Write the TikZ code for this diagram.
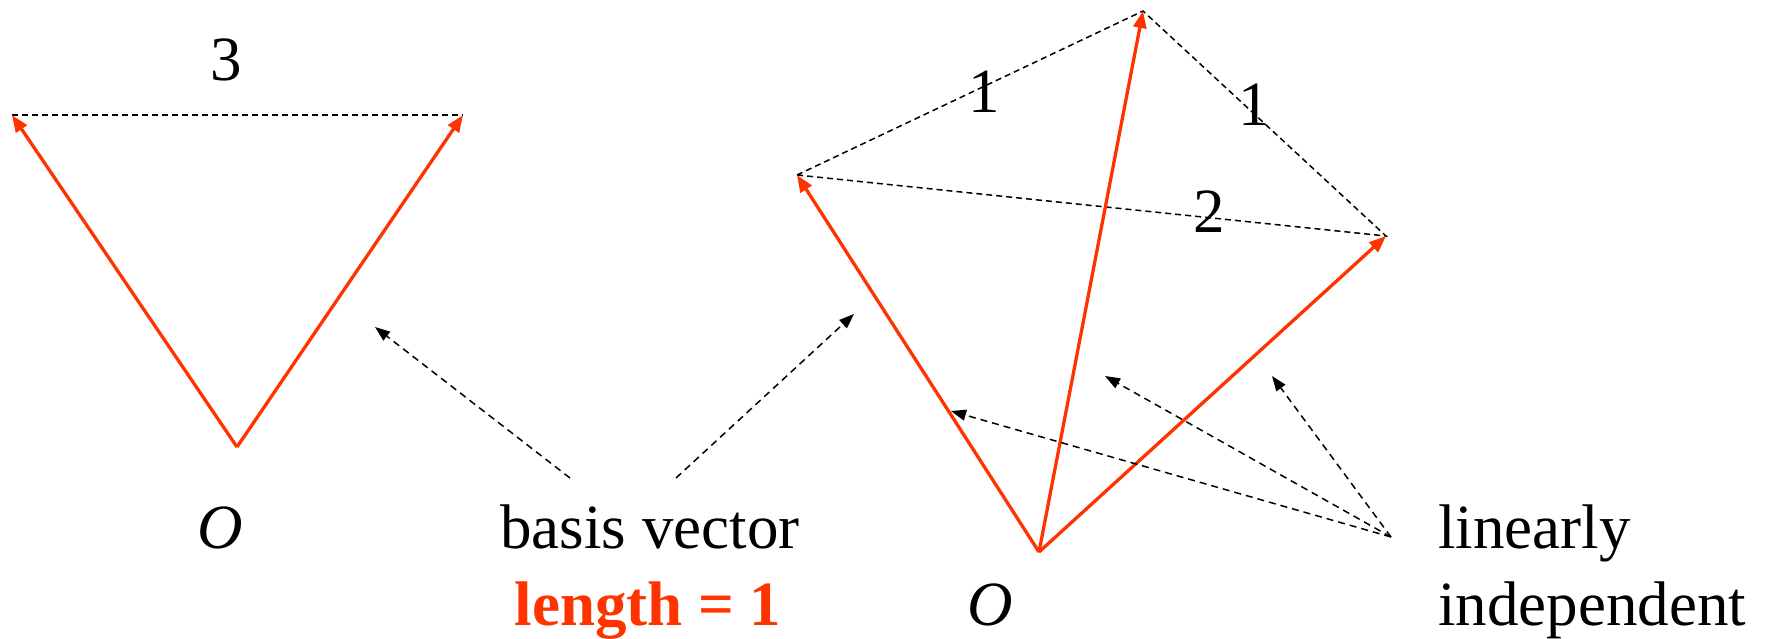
\documentclass[tikz,border=0pt]{standalone}
\usepackage{fontspec}
\setmainfont{Liberation Serif}
\usetikzlibrary{arrows.meta}
\definecolor{vred}{RGB}{255,51,0}
\begin{document}
\begin{tikzpicture}[x=1pt,y=-1pt,
  vec/.style={draw=vred,line width=3.3pt,-{Triangle[length=17pt,width=13pt]}},
  guide/.style={draw=black,line width=1.5pt,dash pattern=on 6pt off 4pt},
  pointer/.style={draw=black,line width=1.5pt,dash pattern=on 7pt off 5pt,-{Triangle[length=15pt,width=11pt]}},
  lbl/.style={inner sep=0pt,anchor=base,font=\fontsize{63}{70}\selectfont},
  lbll/.style={lbl,anchor=base west}]
\useasboundingbox (0,0) rectangle (1769,638);
% left figure
\coordinate (O1) at (237,447);
\coordinate (A) at (12,115);
\coordinate (B) at (463,115);
\draw[guide] (A) -- (B);
\draw[vec] (O1) -- (A);
\draw[vec] (O1) -- (B);
\node[lbl] (t3) at (226,80) {3};
\node[lbl] (o1) at (220,548) {\textit{O}};
% right figure
\coordinate (O2) at (1039,552);
\coordinate (C) at (797,175);
\coordinate (D) at (1143,11);
\coordinate (E) at (1386,236);
\draw[guide] (C) -- (D) -- (E) -- cycle;
\draw[vec] (O2) -- (C);
\draw[vec] (O2) -- (D);
\draw[vec] (O2) -- (E);
\node[lbl] (t1a) at (984,112) {1};
\node[lbl] (t1b) at (1254,125) {1};
\node[lbl] (t2) at (1209,232) {2};
\node[lbl] (o2) at (990,625) {\textit{O}};
% labels
\node[lbl] (basis) at (650,548) {basis vector};
\node[lbl,text=vred] (len) at (648,625) {\textbf{length = 1}};
\node[lbll] (lin) at (1438,548) {linearly};
\node[lbll] (ind) at (1438,625) {independent};
% pointers
\coordinate (p1s) at (570,478);
\coordinate (p1e) at (375,327);
\coordinate (p2s) at (676,478);
\coordinate (p2e) at (854,314);
\draw[pointer] (p1s) -- (p1e);
\draw[pointer] (p2s) -- (p2e);
\coordinate (q) at (1391,537);
\coordinate (q1) at (951,411);
\coordinate (q2) at (1105,376);
\coordinate (q3) at (1272,376);
\draw[pointer] (q) -- (q1);
\draw[pointer] (q) -- (q2);
\draw[pointer] (q) -- (q3);
\end{tikzpicture}
\end{document}
